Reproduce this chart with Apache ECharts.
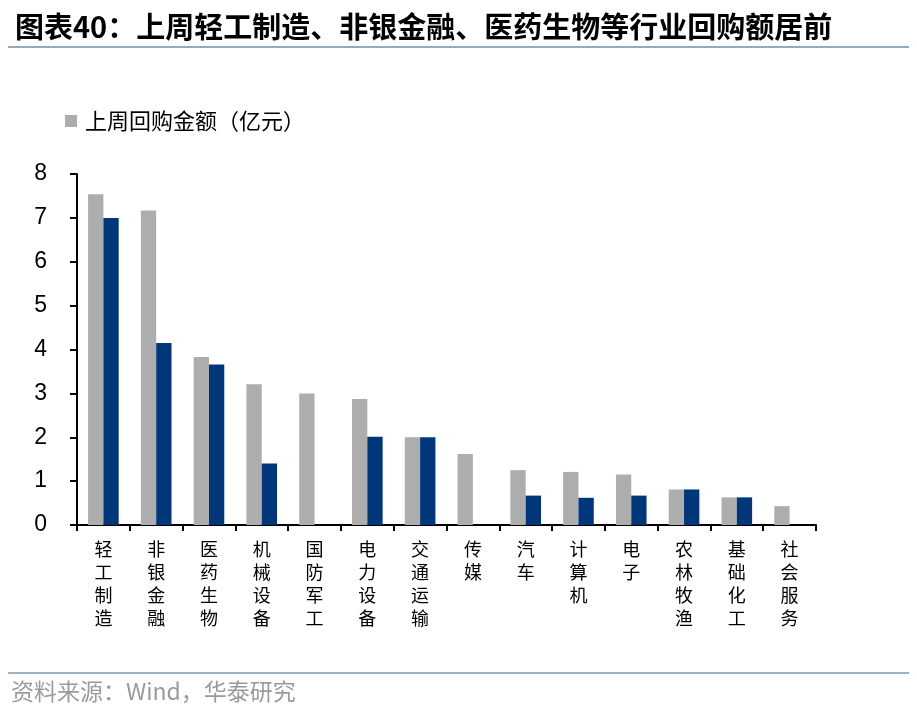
<!DOCTYPE html>
<html>
<head>
<meta charset="utf-8">
<script src="https://cdn.jsdelivr.net/npm/echarts@6/dist/echarts.min.js"></script>
<style>
html,body{margin:0;padding:0;background:#fff;}
#c{width:917px;height:714px;}
</style>
</head>
<body>
<div id="c"></div>
<script>
var categories = ['轻工制造','非银金融','医药生物','机械设备','国防军工','电力设备','交通运输','传媒','汽车','计算机','电子','农林牧渔','基础化工','社会服务'];
var lastWeek = [7.54, 7.17, 3.83, 3.21, 3.0, 2.87, 2.0, 1.62, 1.25, 1.21, 1.15, 0.81, 0.63, 0.43];
var prevWeek = [7.0, 4.15, 3.66, 1.40, 0, 2.01, 2.0, 0, 0.67, 0.62, 0.67, 0.81, 0.63, 0];
var yTicks = [0, 1, 2, 3, 4, 5, 6, 7, 8];

var cjk = '"Noto Sans CJK SC", "Noto Sans", sans-serif';
var chart = echarts.init(document.getElementById('c'));
chart.setOption({
  backgroundColor: '#fff',
  animation: false,
  title: {
    text: '图表40：上周轻工制造、非银金融、医药生物等行业回购额居前',
    left: 10, top: 7,
    textStyle: {fontFamily: cjk, fontSize: 29, fontWeight: 'bold', color: '#000'}
  },
  legend: {
    data: ['上周回购金额（亿元）'],
    left: 60, top: 105,
    itemWidth: 12, itemHeight: 12, icon: 'rect',
    textStyle: {fontFamily: cjk, fontSize: 22, color: '#000', padding: [0,0,0,3]}
  },
  grid: {left: 77, right: 101, top: 174, bottom: 189, containLabel: false},
  xAxis: {
    type: 'category',
    data: categories,
    axisLine: {lineStyle: {color: '#000', width: 2}},
    axisTick: {show: true, length: 6, lineStyle: {color: '#000', width: 2}},
    axisLabel: {
      interval: 0, margin: 13,
      fontFamily: cjk, fontSize: 18, lineHeight: 23, color: '#000',
      formatter: function (v) { return v.split('').join('\n'); }
    }
  },
  yAxis: {
    type: 'value',
    min: yTicks[0], max: yTicks[yTicks.length - 1], interval: 1,
    axisLine: {show: true, lineStyle: {color: '#000', width: 2}},
    axisTick: {show: true, length: 7, lineStyle: {color: '#000', width: 2}},
    splitLine: {show: false},
    axisLabel: {margin: 30, fontFamily: '"Liberation Sans", Arial, sans-serif', fontSize: 23, color: '#000'}
  },
  series: [
    {
      name: '上周回购金额（亿元）', type: 'bar', data: lastWeek,
      barGap: '0%', barCategoryGap: '42%',
      itemStyle: {color: '#ADADAD'}
    },
    {
      name: '前一周回购金额（亿元）', type: 'bar', data: prevWeek,
      barGap: '0%', barCategoryGap: '42%',
      itemStyle: {color: '#00377A'}
    }
  ],
  graphic: [
    {type: 'line', shape: {x1: 8, y1: 47, x2: 909, y2: 47}, style: {stroke: '#95A9C6', lineWidth: 2}},
    {type: 'line', shape: {x1: 8, y1: 673, x2: 909, y2: 673}, style: {stroke: '#9DB0C9', lineWidth: 2}},
    {type: 'text', left: 11, top: 680, style: {text: '资料来源：Wind，华泰研究', fontFamily: cjk, fontSize: 23, fill: '#9A9A9A'}}
  ]
});
</script>
</body>
</html>
